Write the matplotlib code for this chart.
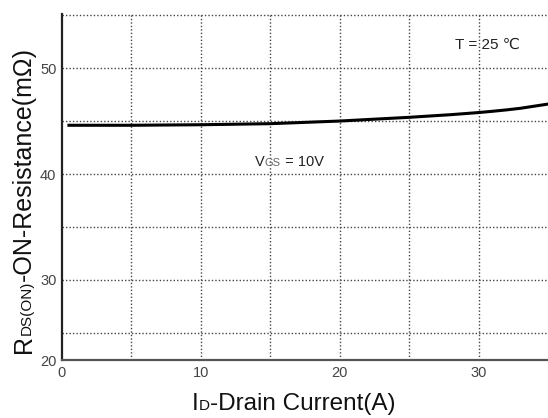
import matplotlib
matplotlib.use('Agg')
import matplotlib.pyplot as plt

# curve
current = [0.5, 5, 10, 15, 20, 25, 28, 30, 31, 32, 33, 34, 35]
rds_on = [44.6, 44.6, 44.65, 44.75, 45.0, 45.35, 45.6, 45.8, 45.92, 46.05, 46.2, 46.4, 46.6]

x_ticks = [0, 10, 20, 30]
x_grid = [5, 10, 15, 20, 25, 30]
y_grid = [25, 30, 35, 40, 45, 50, 55]
y_labels = {30: '30', 40: '40', 50: '50'}
y_bottom = 22.45

plt.rcParams['font.family'] = ['Liberation Sans', 'DejaVu Sans']

fig = plt.figure(figsize=(5.48, 4.18), dpi=100)
ax = fig.add_axes([62 / 548, 58 / 418, 486 / 548, 346 / 418])
ax.set_xlim(0, 35)
ax.set_ylim(y_bottom, 55.1)

for gx in x_grid:
    ax.axvline(gx, color='#444444', linestyle=(0, (1, 1.5)), linewidth=1, zorder=1)
for gy in y_grid:
    ax.axhline(gy, color='#444444', linestyle=(0, (1, 1.5)), linewidth=1, zorder=1)

ax.plot(current, rds_on, color='black', linewidth=2.2, zorder=3)

ax.set_xticks(x_ticks)
ax.set_xticklabels([str(t) for t in x_ticks])
ax.set_yticks([y_bottom] + list(y_labels.keys()))
ax.set_yticklabels(['20'] + list(y_labels.values()))
ax.tick_params(length=0, labelsize=10.5, labelcolor='#444444', pad=4)

for s in ['top', 'right']:
    ax.spines[s].set_visible(False)
ax.spines['left'].set_linewidth(1.6)
ax.spines['left'].set_color('#222222')
ax.spines['bottom'].set_linewidth(1.6)
ax.spines['bottom'].set_color('#555555')

fig.canvas.draw()
renderer = fig.canvas.get_renderer()


def draw_parts(parts, x0, y0, rotation=0):
    # parts: list of (text, size, color); lays them out one after another in pixels
    pos = 0
    for txt, size, color in parts:
        if rotation == 0:
            t = fig.text(x0 + pos, y0, txt, fontsize=size, color=color,
                         transform=None, va='baseline', ha='left')
        else:
            t = fig.text(x0, y0 + pos, txt, fontsize=size, color=color,
                         transform=None, va='baseline', ha='left',
                         rotation=90, rotation_mode='anchor')
        bb = t.get_window_extent(renderer)
        pos += bb.width if rotation == 0 else bb.height


H = 418
# x label
draw_parts([('I', 17.5, '#111111'), ('D', 11, '#111111'),
            ('-Drain Current(A)', 17.5, '#111111')], 192, H - 410)
# y label
draw_parts([('R', 18, '#111111'), ('DS(ON)', 11, '#111111'),
            ('-ON-Resistance(mΩ)', 18, '#111111')], 31, H - 353, rotation=90)

# annotations
fig.text(455, H - 49, 'T = 25 ℃', fontsize=11, color='#222222', transform=None)
draw_parts([('V', 10.5, '#222222'), ('GS', 8, '#666666'),
            (' = 10V', 10.5, '#222222')], 255, H - 166)

fig.savefig('out.png', dpi=100)
